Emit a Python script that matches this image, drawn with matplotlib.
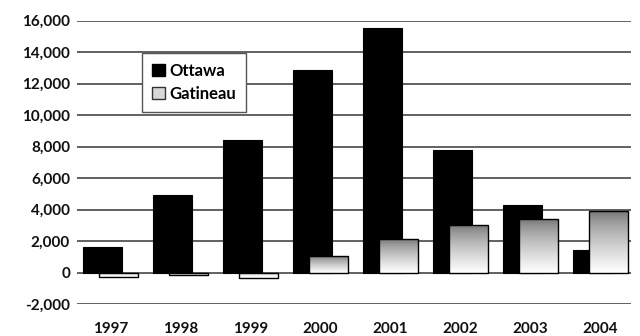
import numpy as np
import matplotlib.pyplot as plt
from matplotlib.patches import Patch

years = ['1997', '1998', '1999', '2000', '2001', '2002', '2003', '2004']
ottawa = [1640, 4950, 8450, 12850, 15550, 7800, 4280, 1420]
gatineau = [-300, -150, -350, 1050, 2100, 3000, 3380, 3900]

plt.rcParams['font.family'] = ['Lato', 'DejaVu Sans']

fig = plt.figure(figsize=(6.4, 3.36), dpi=100)
ax = fig.add_axes([0.1203, 0.0952, 0.8657, 0.8432])

x = np.arange(len(years))
w = 0.557
off = 0.114

ax.bar(x - off, ottawa, w, color='black', edgecolor='black', linewidth=0.8, zorder=2)
gbars = ax.bar(x + off, gatineau, w, color='none', edgecolor='black', linewidth=1.0, zorder=4)

# grey at the top fading to white at the bottom of each Gatineau bar
grad = np.linspace(0, 1, 256).reshape(-1, 1) ** 0.7
for b in gbars:
    x0 = b.get_x()
    y0 = min(b.get_y(), b.get_y() + b.get_height())
    y1 = max(b.get_y(), b.get_y() + b.get_height())
    if b.get_height() < 0:
        g = grad * 0.3 + 0.7
    else:
        g = grad
    im = ax.imshow(g, cmap='gray', vmin=-0.8, vmax=1.0, aspect='auto',
                   extent=(x0, x0 + b.get_width(), y0, y1), origin='upper',
                   zorder=3, interpolation='bilinear')
    im.set_clip_path(b)

ax.set_xlim(-0.48, 7.44)
ax.set_ylim(-2000, 16000)
ax.set_yticks(range(-2000, 16001, 2000))
ax.set_yticklabels(['{:,}'.format(v) for v in range(-2000, 16001, 2000)])
ax.set_xticks(x)
ax.set_xticklabels(years)

ax.grid(axis='y', color='#555555', linewidth=1.3, zorder=0)
ax.set_axisbelow(True)
for s in ax.spines.values():
    s.set_visible(False)
ax.tick_params(axis='both', length=0, labelsize=11, colors='#111111')
ax.tick_params(axis='y', pad=5)
ax.tick_params(axis='x', pad=13)
for lab in ax.get_xticklabels() + ax.get_yticklabels():
    lab.set_fontweight('bold')

handles = [Patch(facecolor='black', edgecolor='black'),
           Patch(facecolor='#d8d8d8', edgecolor='#333333')]
leg = fig.legend(handles, ['Ottawa', 'Gatineau'], loc='upper left',
                 bbox_to_anchor=(0.222, 0.842), borderaxespad=0,
                 fancybox=False, edgecolor='#555555', framealpha=1,
                 prop={'size': 12, 'weight': 'bold'}, handlelength=0.75,
                 handleheight=0.75, handletextpad=0.3, labelspacing=0.4,
                 borderpad=0.6)
leg.get_frame().set_linewidth(1.0)

plt.savefig('out.png', dpi=100)
